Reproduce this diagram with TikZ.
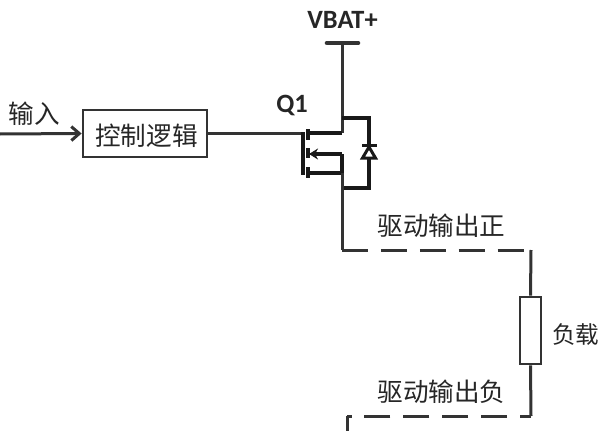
\documentclass[tikz,border=0pt]{standalone}
\usepackage{fontspec}
\setmainfont{Noto Sans CJK SC}[Scale=1]
\newfontfamily\latinfont{Carlito}
\usepackage{tikz}
\usetikzlibrary{arrows.meta}
\definecolor{wire}{HTML}{333333}
\tikzset{
>={Straight Barb[length=8pt,width=14pt,line width=3pt]},
  wireline/.style={draw=wire, line width=3pt},
  mosline/.style={draw=black!90, line width=3.2pt},
  element/.style={
    rectangle,
    draw=wire, line width=2.8pt,
    fill=white,
    inner sep=0pt},
  cnlabel/.style={text=black!85, inner sep=0pt, font=\fontsize{25.6}{26}\selectfont},
  pinlabel/.style={text=black!85, inner sep=0pt, font=\latinfont\bfseries\fontsize{26.4}{26}\selectfont},
  dashline/.style={wireline, dash pattern=on 26pt off 12.9pt},
}
\begin{document}
\begin{tikzpicture}[x=1pt,y=-1pt]
\useasboundingbox[fill=white] (0,0) rectangle (600,431);
\coordinate (IN) at (0,134);
\coordinate (VB) at (342,43);
\coordinate (D) at (342,133);
\coordinate (B) at (342,154);
\coordinate (S) at (342,173);
\coordinate (OUT) at (342,250);
\coordinate (R) at (531,250);
\coordinate (RB) at (531,416);
\coordinate (LB) at (347,416);
\coordinate (END) at (347,431);
\node[element, minimum width=124pt, minimum height=47pt] (ctrl) at (145,133.5) {};
\node[cnlabel] (ctrltxt) at (146.5,136) {控制逻辑};
\node[cnlabel] (intxt) at (34.5,114) {输入};
\node[pinlabel] (vbat) at (342.5,20) {VBAT+};
\node[pinlabel] (q1) at (292,105) {Q1};
\node[cnlabel] (pos) at (441.5,226) {驱动输出正};
\node[cnlabel] (neg) at (441.5,392) {驱动输出负};
\node[cnlabel, anchor=west, font=\fontsize{23.6}{24}\selectfont] (loadtxt) at (552,335) {负载};
\node[element, minimum width=21pt, minimum height=67pt] (load) at (530.5,330.5) {};
% input and gate
\draw[wireline,->] (IN) -- (ctrl.west);
\draw[wireline] (ctrl.east|-D) -- (303,133);
% supply
\draw[wire, line width=4.6pt, line cap=round] (327,43) -- (358,43);
\draw[wireline] (VB) -- (D);
% mosfet
\draw[mosline] (303,132) -- (303,175);
\foreach \yA/\yB in {129/140,148/158,167/178}{
    \draw[mosline] (308,\yA) -- (308,\yB);
    }
\draw[mosline] (308,133) -- (D);
\draw[mosline] (308,173) -- (S);
\draw[mosline] (B) -- (S);
\draw[mosline,-{Stealth[length=9pt,width=11pt]}] (B) -- (309,154);
% diode
\draw[mosline] (342,118) -- (369,118) -- (369,188) -- (342,188);
\filldraw[mosline, fill=white, line width=3pt] (369,147) -- (362.5,158) -- (375.5,158) -- cycle;
\draw[mosline] (362,145.5) -- (377,145.5);
% output
\draw[wireline] (S) -- (OUT);
\draw[dashline] (OUT) -- (R);
\draw[wireline] (R) -- (load.north);
\draw[wireline] (load.south) -- (RB);
\draw[dashline, dash phase=15pt] (RB) -- (LB);
\draw[wireline] (LB) -- (END);
\end{tikzpicture}
\end{document}
